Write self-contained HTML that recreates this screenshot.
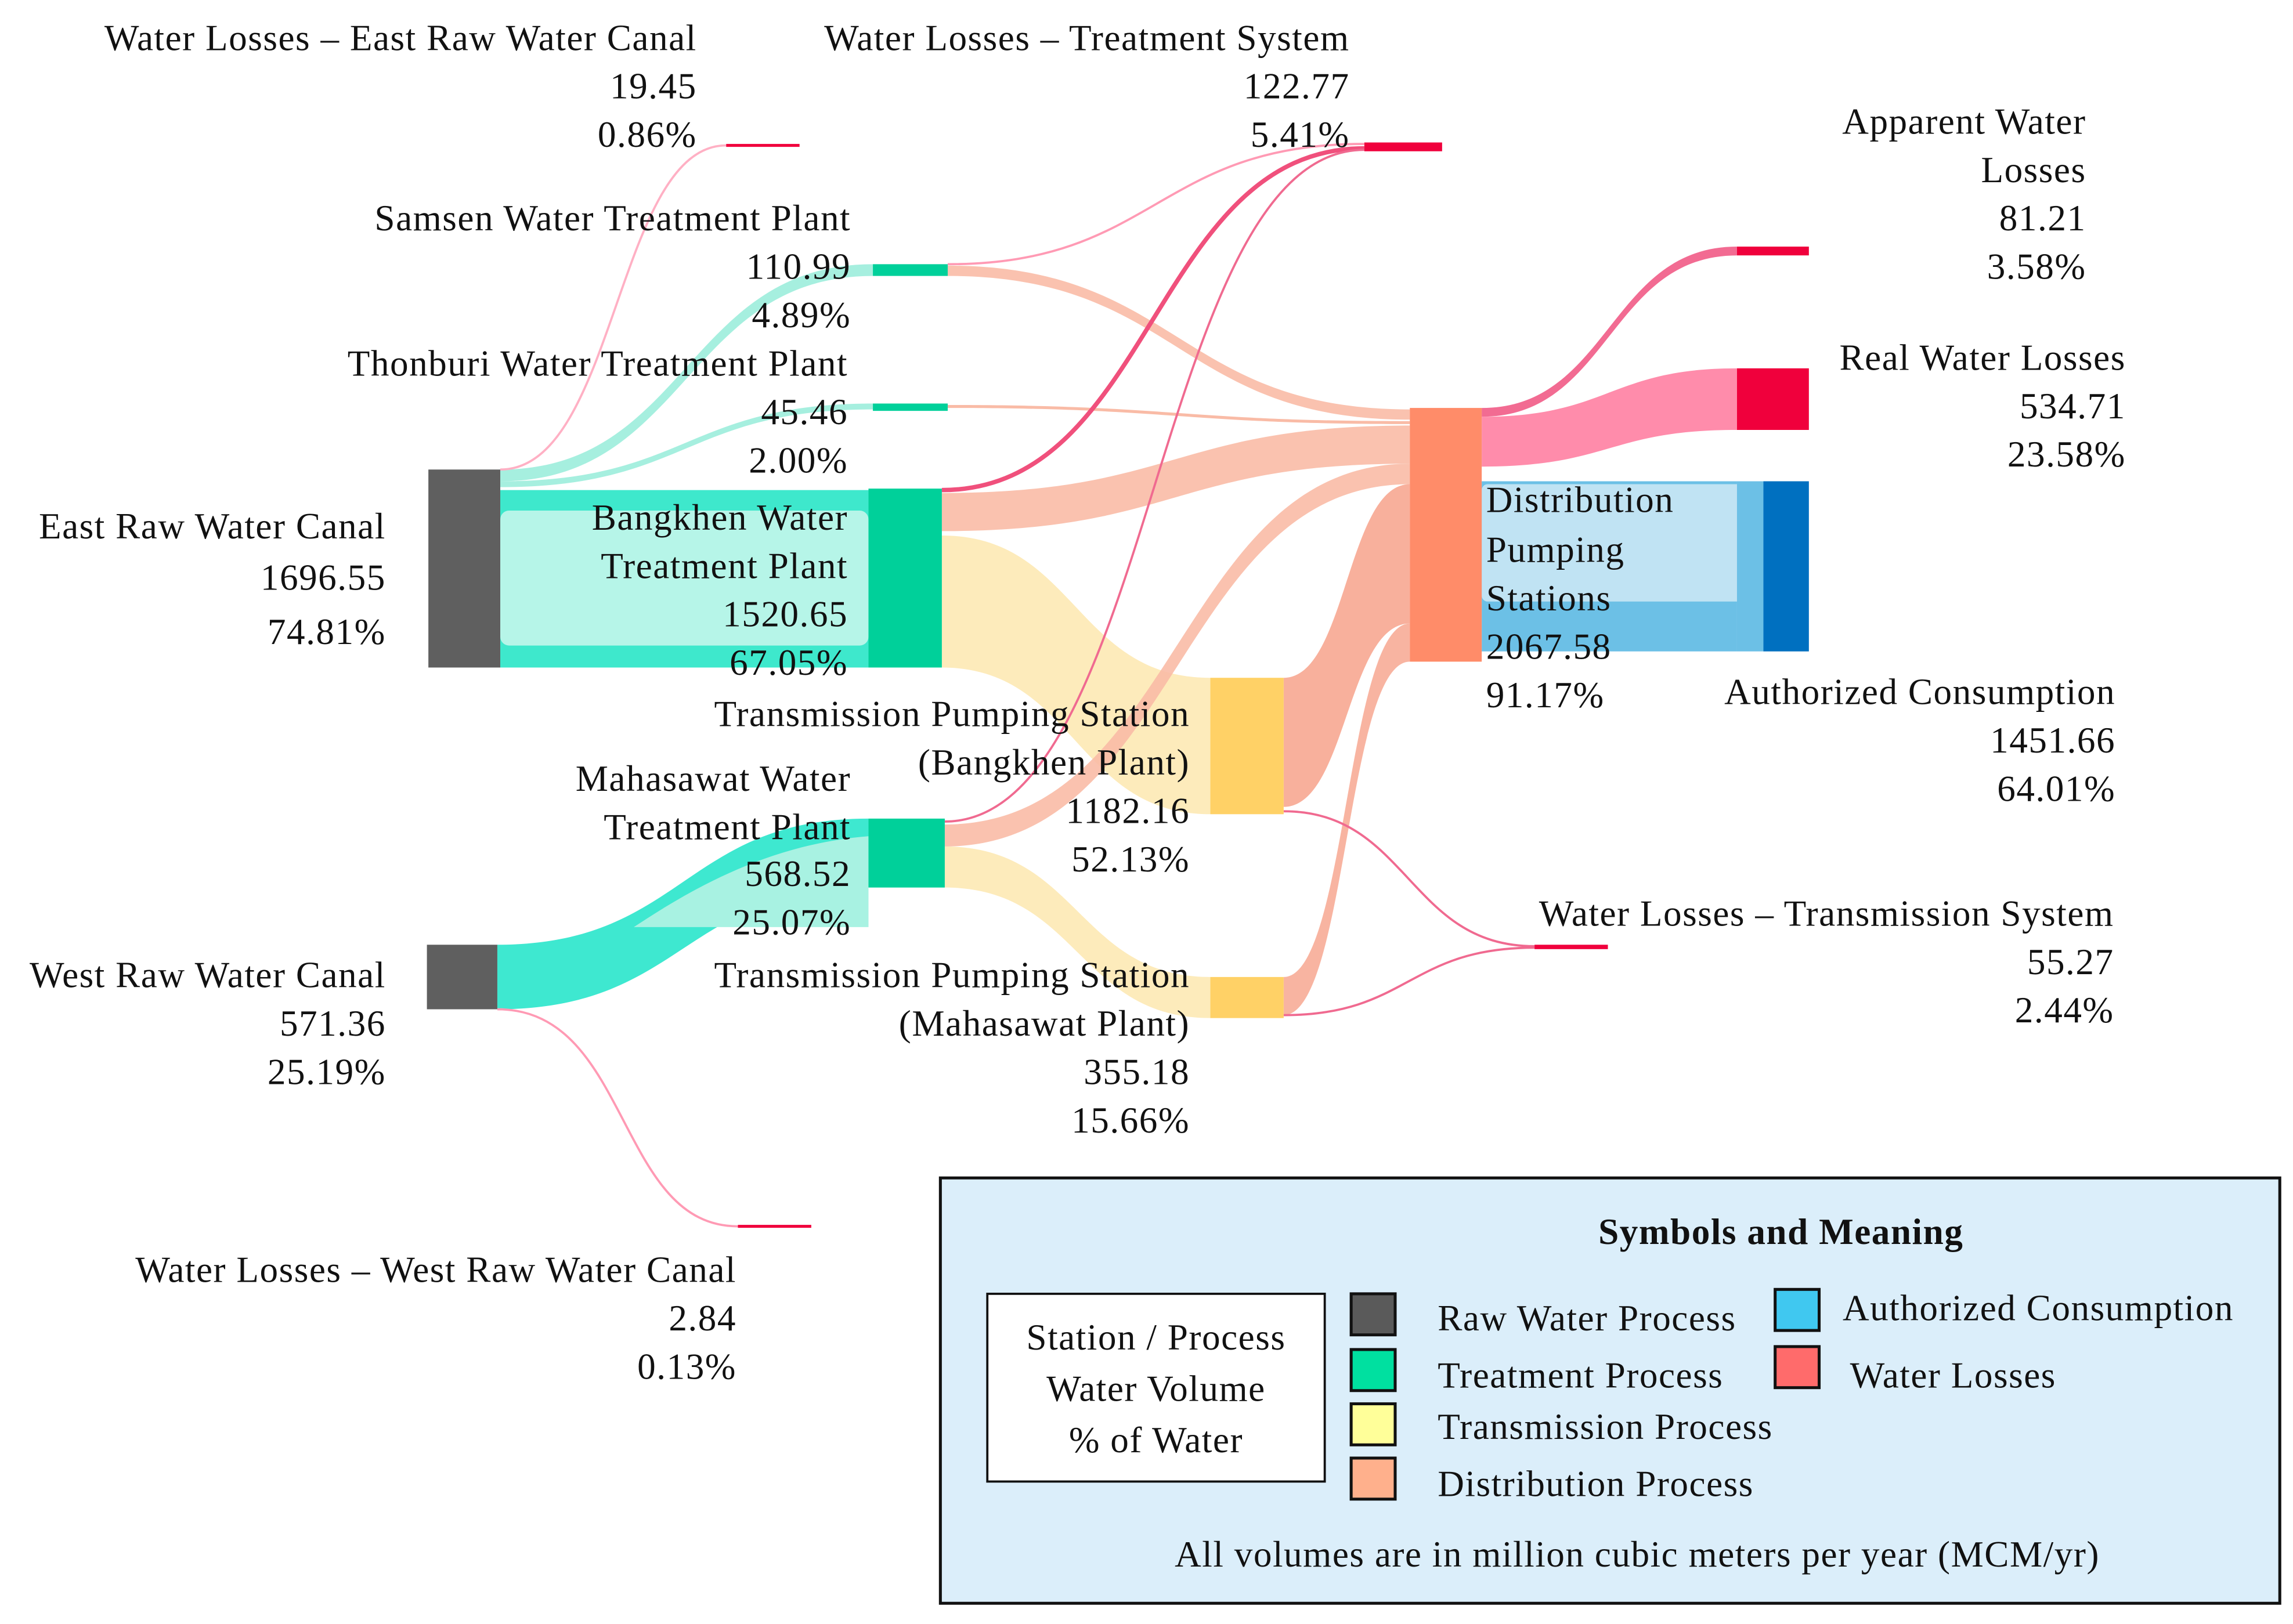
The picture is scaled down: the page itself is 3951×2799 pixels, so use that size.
<!DOCTYPE html>
<html><head><meta charset="utf-8"><style>
html,body{margin:0;padding:0;background:#fff;}
svg{display:block;}
text{font-family:"Liberation Serif",serif;font-size:25px;letter-spacing:0.6px;fill:#111;}
</style></head><body>
<svg width="3951" height="2799" viewBox="0 0 1563 1107" xmlns="http://www.w3.org/2000/svg">
<rect width="1563" height="1107" fill="#fff"/>
<rect x="341" y="334" width="251" height="121" fill="#3ee8cc"/>
<rect x="341" y="348" width="251" height="92" rx="6" fill="#b6f5e8"/>
<path d="M341 320 C468 320 468 180 595 180 L595 188 C468 188 468 328 341 328 Z" fill="#a6efdf"/>
<path d="M341 328 C468 328 468 275 595 275 L595 279 C468 279 468 332 341 332 Z" fill="#a6efdf"/>
<path d="M341 320 C420 320 420 99 495 99" fill="none" stroke="#ffb0c4" stroke-width="1.5"/>
<path d="M339 644 C466 644 466 558 592 558 L592 605 C466 605 466 688 339 688 Z" fill="#3ee8d0"/>
<path d="M432 632 C480 600 530 575 592 570 L592 632 Z" fill="#a8f2e2"/>
<path d="M339 688 C430 688 420 836 503 836" fill="none" stroke="#ff9ab4" stroke-width="1.5"/>
<path d="M642 365 C733 365 733 462 825 462 L825 555 C733 555 733 455 642 455 Z" fill="#fde9b4" opacity="0.9"/>
<path d="M644 577 C735 577 735 666 825 666 L825 694 C735 694 735 605 644 605 Z" fill="#fde9b4" opacity="0.9"/>
<path d="M875 462 C918 462 918 330 961 330 L961 425 C918 425 918 550 875 550 Z" fill="#f7a791" opacity="0.9"/>
<path d="M875 666 C918 666 918 425 961 425 L961 451 C918 451 918 692 875 692 Z" fill="#f7a791" opacity="0.85"/>
<path d="M642 336 C801 336 801 290 961 290 L961 316 C801 316 801 362 642 362 Z" fill="#f9bba6" opacity="0.9"/>
<path d="M646 181 C803 181 803 279 961 279 L961 286 C803 286 803 188 646 188 Z" fill="#f9bba6" opacity="0.9"/>
<path d="M646 276 C803 276 803 287 961 287 L961 289 C803 289 803 278 646 278 Z" fill="#f9bba6"/>
<path d="M644 562 C803 562 803 316 961 316 L961 330 C803 330 803 577 644 577 Z" fill="#f9bba6" opacity="0.9"/>
<path d="M642 334 C786 334 786 101 930 101" fill="none" stroke="#f0507c" stroke-width="3"/>
<path d="M646 180 C788 180 788 98 930 98" fill="none" stroke="#ff9ab4" stroke-width="1.5"/>
<path d="M644 560 C787 560 787 102 930 102" fill="none" stroke="#f06a90" stroke-width="1.5"/>
<path d="M875 553 C960 553 960 645 1046 645" fill="none" stroke="#f06a90" stroke-width="1.5"/>
<path d="M875 692 C960 692 960 646 1046 646" fill="none" stroke="#f06a90" stroke-width="1.5"/>
<path d="M1010 278 C1097 278 1097 168 1184 168 L1184 174 C1097 174 1097 284 1010 284 Z" fill="#f26b92"/>
<path d="M1010 284 C1097 284 1097 251 1184 251 L1184 293 C1097 293 1097 318 1010 318 Z" fill="#ff8cab"/>
<rect x="1010" y="328" width="174" height="116" fill="#6cc0e6"/>
<rect x="1010" y="330" width="192" height="80" rx="4" fill="#c0e3f3"/>
<rect x="292" y="320" width="49" height="135" fill="#5f5f5f"/>
<rect x="291" y="644" width="48" height="44" fill="#5f5f5f"/>
<rect x="595" y="180" width="51" height="8" fill="#00d09a"/>
<rect x="595" y="275" width="51" height="5" fill="#00d09a"/>
<rect x="592" y="333" width="50" height="122" fill="#00d09a"/>
<rect x="592" y="558" width="52" height="47" fill="#00d09a"/>
<rect x="495" y="98" width="50" height="2" fill="#f0003c"/>
<rect x="930" y="97" width="53" height="6" fill="#f0003c"/>
<rect x="503" y="835" width="50" height="2" fill="#f0003c"/>
<rect x="825" y="462" width="50" height="93" fill="#ffd166"/>
<rect x="825" y="666" width="50" height="28" fill="#ffd166"/>
<rect x="961" y="278" width="49" height="173" fill="#ff8c69"/>
<rect x="1046" y="644" width="50" height="3" fill="#f0003c"/>
<rect x="1184" y="168" width="49" height="6" fill="#f0003c"/>
<rect x="1184" y="251" width="49" height="42" fill="#f0003c"/>
<rect x="1184" y="328" width="18" height="116" fill="#6cc0e6"/>
<rect x="1202" y="328" width="31" height="116" fill="#0070c0"/>
<g text-anchor="end">
<text x="475" y="34">Water Losses – East Raw Water Canal</text>
<text x="475" y="67">19.45</text>
<text x="475" y="100">0.86%</text>
<text x="920" y="34">Water Losses – Treatment System</text>
<text x="920" y="67">122.77</text>
<text x="920" y="100">5.41%</text>
<text x="580" y="157">Samsen Water Treatment Plant</text>
<text x="580" y="190">110.99</text>
<text x="580" y="223">4.89%</text>
<text x="578" y="256">Thonburi Water Treatment Plant</text>
<text x="578" y="289">45.46</text>
<text x="578" y="322">2.00%</text>
<text x="263" y="367">East Raw Water Canal</text>
<text x="263" y="402">1696.55</text>
<text x="263" y="439">74.81%</text>
<text x="578" y="361">Bangkhen Water</text>
<text x="578" y="394">Treatment Plant</text>
<text x="578" y="427">1520.65</text>
<text x="578" y="460">67.05%</text>
<text x="811" y="495">Transmission Pumping Station</text>
<text x="811" y="528">(Bangkhen Plant)</text>
<text x="811" y="561">1182.16</text>
<text x="811" y="594">52.13%</text>
<text x="580" y="539">Mahasawat Water</text>
<text x="580" y="572">Treatment Plant</text>
<text x="580" y="604">568.52</text>
<text x="580" y="637">25.07%</text>
<text x="263" y="673">West Raw Water Canal</text>
<text x="263" y="706">571.36</text>
<text x="263" y="739">25.19%</text>
<text x="811" y="673">Transmission Pumping Station</text>
<text x="811" y="706">(Mahasawat Plant)</text>
<text x="811" y="739">355.18</text>
<text x="811" y="772">15.66%</text>
<text x="502" y="874">Water Losses – West Raw Water Canal</text>
<text x="502" y="907">2.84</text>
<text x="502" y="940">0.13%</text>
<text x="1422" y="91">Apparent Water</text>
<text x="1422" y="124">Losses</text>
<text x="1422" y="157">81.21</text>
<text x="1422" y="190">3.58%</text>
<text x="1449" y="252">Real Water Losses</text>
<text x="1449" y="285">534.71</text>
<text x="1449" y="318">23.58%</text>
<text x="1442" y="480">Authorized Consumption</text>
<text x="1442" y="513">1451.66</text>
<text x="1442" y="546">64.01%</text>
<text x="1441" y="631">Water Losses – Transmission System</text>
<text x="1441" y="664">55.27</text>
<text x="1441" y="697">2.44%</text>
</g>
<text x="1013" y="349">Distribution</text>
<text x="1013" y="383">Pumping</text>
<text x="1013" y="416">Stations</text>
<text x="1013" y="449">2067.58</text>
<text x="1013" y="482">91.17%</text>
<rect x="641" y="803" width="913" height="290" fill="#dbeefa" stroke="#111" stroke-width="2"/>
<text x="1214" y="848" text-anchor="middle" font-weight="bold">Symbols and Meaning</text>
<rect x="673" y="882" width="230" height="128" fill="#fff" stroke="#111" stroke-width="1.5"/>
<text x="788" y="920" text-anchor="middle">Station / Process</text>
<text x="788" y="955" text-anchor="middle">Water Volume</text>
<text x="788" y="990" text-anchor="middle">% of Water</text>
<rect x="921" y="882" width="30" height="28" fill="#5a5a5a" stroke="#111" stroke-width="2"/>
<rect x="921" y="920" width="30" height="28" fill="#00e0a0" stroke="#111" stroke-width="2"/>
<rect x="921" y="957" width="30" height="28" fill="#ffff99" stroke="#111" stroke-width="2"/>
<rect x="921" y="994" width="30" height="28" fill="#ffb08c" stroke="#111" stroke-width="2"/>
<rect x="1210" y="879" width="30" height="28" fill="#40c8f0" stroke="#111" stroke-width="2"/>
<rect x="1210" y="918" width="30" height="28" fill="#ff6b6b" stroke="#111" stroke-width="2"/>
<text x="980" y="907">Raw Water Process</text>
<text x="980" y="946">Treatment Process</text>
<text x="980" y="981">Transmission Process</text>
<text x="980" y="1020">Distribution Process</text>
<text x="1256" y="900">Authorized Consumption</text>
<text x="1261" y="946">Water Losses</text>
<text x="1116" y="1068" text-anchor="middle">All volumes are in million cubic meters per year (MCM/yr)</text>
</svg>
</body></html>
